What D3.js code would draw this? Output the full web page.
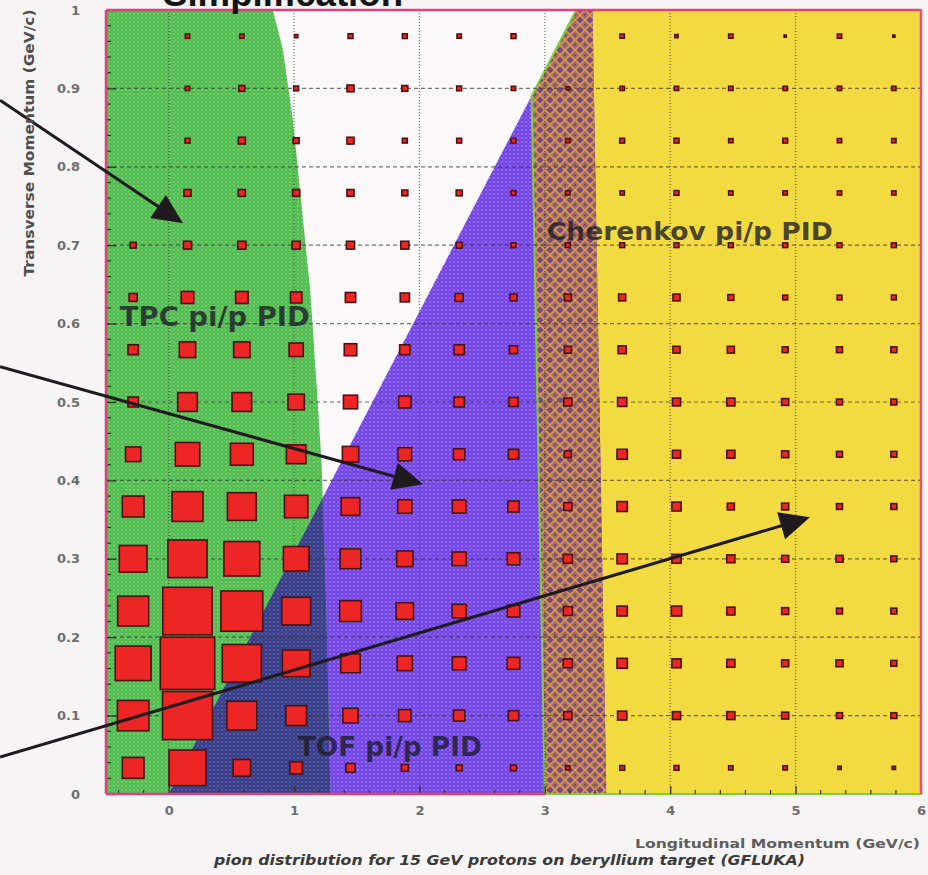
<!DOCTYPE html>
<html>
<head>
<meta charset="utf-8">
<script src="https://cdn.jsdelivr.net/npm/d3@7"></script>
<style>
  html, body { margin: 0; padding: 0; background: #f6f4f4; }
  svg { display: block; }
</style>
</head>
<body>
<svg id="chart" width="928" height="875"></svg>
<script>
// ---- histogram definition: longitudinal (pL) x transverse (pT) momentum bins ----
const pLRange = [-0.5, 6];     // GeV/c
const pTRange = [0, 1];        // GeV/c
const nBinsL = 15;
const nBinsT = 15;

// relative pion yield per cell; one array per pT bin (bottom to top), 15 pL bins each
const pionCounts = [
  [40, 68, 32, 23, 17, 13, 11, 11, 8, 9, 9, 8, 8, 6, 6],
  [58, 92, 55, 38, 28, 23, 21, 19, 15, 17, 15, 15, 13, 11, 11],
  [66, 100, 72, 51, 36, 28, 25, 23, 17, 19, 17, 15, 13, 13, 11],
  [57, 91, 77, 53, 40, 32, 26, 23, 17, 19, 19, 15, 13, 11, 11],
  [51, 72, 66, 47, 38, 30, 26, 23, 17, 19, 17, 15, 13, 13, 11],
  [40, 57, 53, 43, 34, 26, 25, 21, 15, 19, 17, 13, 13, 11, 11],
  [28, 45, 42, 36, 30, 25, 21, 19, 13, 19, 15, 15, 13, 11, 11],
  [19, 36, 36, 30, 26, 23, 19, 17, 15, 17, 15, 15, 13, 11, 11],
  [19, 30, 30, 26, 23, 19, 19, 15, 13, 15, 13, 13, 11, 11, 11],
  [15, 23, 23, 21, 19, 17, 15, 13, 13, 13, 13, 11, 9, 9, 9],
  [11, 15, 15, 15, 15, 15, 11, 9, 9, 9, 9, 9, 9, 9, 9],
  [0, 13, 13, 13, 13, 11, 11, 9, 8, 8, 9, 8, 8, 8, 8],
  [0, 9, 13, 11, 13, 9, 9, 9, 8, 9, 9, 8, 9, 8, 8],
  [0, 8, 11, 9, 13, 11, 9, 8, 6, 8, 8, 8, 8, 8, 8],
  [0, 8, 8, 6, 9, 9, 8, 9, 0, 8, 6, 8, 4, 8, 4]
];

// axis ticks
const xTickValues = [0, 1, 2, 3, 4, 5, 6];
const xTickLabels = ["0", "1", "2", "3", "4", "5", "6"];
const yTickValues = [0, 0.1, 0.2, 0.3, 0.4, 0.5, 0.6, 0.7, 0.8, 0.9, 1];
const yTickLabels = ["0", "0.1", "0.2", "0.3", "0.4", "0.5", "0.6", "0.7", "0.8", "0.9", "1"];

// particle-ID acceptance regions, [pL, pT] vertices
const tpcRegion = [[-0.5, 0], [-0.5, 1], [0.83, 1], [0.91, 0.95], [0.99, 0.86], [1.06, 0.75],
                   [1.13, 0.64], [1.18, 0.52], [1.22, 0.42], [1.26, 0.22], [1.29, 0]];
const tofRegion = [[0, 0], [3.49, 0], [3.38, 1], [3.25, 1]];
const cherenkovRegion = [[3.0, 0], [6, 0], [6, 1], [3.25, 1], [2.894, 0.89]];

// ---- drawing ----
const svg = d3.select("#chart");
const x = d3.scaleLinear().domain(pLRange).range([106, 921]);
const y = d3.scaleLinear().domain(pTRange).range([794, 10]);

const defs = svg.append("defs");

function dotPattern(id, base, dot, step, r) {
  const p = defs.append("pattern").attr("id", id).attr("patternUnits", "userSpaceOnUse")
    .attr("width", step).attr("height", step);
  p.append("rect").attr("width", step).attr("height", step).attr("fill", base);
  p.append("circle").attr("cx", step / 2).attr("cy", step / 2).attr("r", r).attr("fill", dot);
  [[0, 0], [step, step], [0, step], [step, 0]].forEach(c =>
    p.append("circle").attr("cx", c[0]).attr("cy", c[1]).attr("r", r * 0.6).attr("fill", dot));
}
dotPattern("tpcFill", "#50bb4e", "#80d27b", 4, 1.0);
dotPattern("tofFill", "#6e3ce4", "#9c7ef6", 4, 1.1);
dotPattern("overlapFill", "#373c86", "#5d62aa", 4, 1.0);

// woven hatch for the TOF / Cherenkov overlap
const hatch = defs.append("pattern").attr("id", "hatchFill").attr("patternUnits", "userSpaceOnUse")
  .attr("width", 10).attr("height", 10);
hatch.append("rect").attr("width", 10).attr("height", 10).attr("fill", "#7a4a80");
hatch.append("path").attr("d", "M0,5 L5,0 L10,5 L5,10 Z").attr("fill", "none")
  .attr("stroke", "#dc9e48").attr("stroke-width", 1.7);
hatch.append("path").attr("d", "M2.5,5 L5,2.5 L7.5,5 L5,7.5 Z").attr("fill", "none")
  .attr("stroke", "#c98a42").attr("stroke-width", 1.0);

const line = d3.line().x(d => x(d[0])).y(d => y(d[1]));
const closed = pts => line(pts) + "Z";

defs.append("clipPath").attr("id", "tofClip").append("path").attr("d", closed(tofRegion));

const regions = svg.append("g");
regions.append("rect").attr("x", x(pLRange[0])).attr("y", y(pTRange[1]))
  .attr("width", x(pLRange[1]) - x(pLRange[0])).attr("height", y(pTRange[0]) - y(pTRange[1]))
  .attr("fill", "#faf8f8");
regions.append("path").attr("d", closed(cherenkovRegion)).attr("fill", "#f3da40");
regions.append("path").attr("d", closed(tofRegion)).attr("fill", "url(#tofFill)");
regions.append("path").attr("d", closed(tpcRegion)).attr("fill", "url(#tpcFill)");
regions.append("path").attr("d", closed(tpcRegion)).attr("fill", "url(#overlapFill)")
  .attr("clip-path", "url(#tofClip)");
regions.append("path").attr("d", closed(cherenkovRegion)).attr("fill", "url(#hatchFill)")
  .attr("clip-path", "url(#tofClip)");
regions.append("path").attr("d", closed(cherenkovRegion)).attr("fill", "none")
  .attr("stroke", "#7ccf3c").attr("stroke-width", 2);

// grid
const grid = svg.append("g").attr("fill", "none");
grid.selectAll("line.h").data(yTickValues.slice(1, -1)).join("line")
  .attr("x1", x(pLRange[0])).attr("x2", x(pLRange[1]))
  .attr("y1", d => y(d)).attr("y2", d => y(d))
  .attr("stroke", "#3a3a3a").attr("stroke-opacity", 0.7).attr("stroke-width", 1.2)
  .attr("stroke-dasharray", "4,3");
grid.selectAll("line.v").data(xTickValues.slice(0, -1)).join("line")
  .attr("x1", d => x(d)).attr("x2", d => x(d))
  .attr("y1", y(pTRange[0])).attr("y2", y(pTRange[1]))
  .attr("stroke", "#444").attr("stroke-opacity", 0.7).attr("stroke-width", 1.3)
  .attr("stroke-dasharray", "1,2");

// boxes
const binW = (pLRange[1] - pLRange[0]) / nBinsL;
const binH = (pTRange[1] - pTRange[0]) / nBinsT;
const cellW = x(pLRange[0] + binW) - x(pLRange[0]);
const cellH = y(pTRange[0]) - y(pTRange[0] + binH);
const maxCount = d3.max(pionCounts.flat());
const cells = [];
pionCounts.forEach((row, j) => row.forEach((v, i) => {
  if (v > 0) cells.push({ pL: pLRange[0] + (i + 0.5) * binW, pT: pTRange[0] + (j + 0.5) * binH, v });
}));
svg.append("g").selectAll("rect").data(cells).join("rect")
  .attr("x", d => x(d.pL) - (d.v / maxCount) * cellW / 2)
  .attr("y", d => y(d.pT) - (d.v / maxCount) * cellH / 2)
  .attr("width", d => (d.v / maxCount) * cellW)
  .attr("height", d => (d.v / maxCount) * cellH)
  .attr("fill", "#ee2525").attr("stroke", "#4a1212").attr("stroke-width", 1.6);

// region labels
const labelFont = "'DejaVu Sans', sans-serif";
const labels = svg.append("g").attr("font-family", labelFont).attr("font-weight", "bold")
  .attr("fill", "#1c1c28").attr("fill-opacity", 0.8);
labels.append("text").attr("x", x(-0.39)).attr("y", y(0.597)).attr("font-size", 26)
  .attr("textLength", 190).attr("lengthAdjust", "spacingAndGlyphs").text("TPC pi/p PID");
labels.append("text").attr("x", x(1.03)).attr("y", y(0.049)).attr("font-size", 26)
  .attr("textLength", 184).attr("lengthAdjust", "spacingAndGlyphs").text("TOF pi/p PID");
labels.append("text").attr("x", x(3.015)).attr("y", y(0.706)).attr("font-size", 24)
  .attr("textLength", 286).attr("lengthAdjust", "spacingAndGlyphs").text("Cherenkov pi/p PID");

// axes: ticks point into the frame
const yMinor = d3.range(0.02, 1, 0.02).filter(v => Math.abs(v * 10 - Math.round(v * 10)) > 1e-6);
const xMinor = d3.range(-0.4, 6, 0.2).filter(v => Math.abs(v - Math.round(v)) > 1e-6);

const yAxis = svg.append("g").attr("transform", `translate(${x(pLRange[0])},0)`)
  .call(d3.axisLeft(y).tickValues(yTickValues).tickFormat((d, i) => yTickLabels[i])
    .tickSize(-10).tickPadding(26));
yAxis.select(".domain").remove();
yAxis.selectAll(".tick line").attr("stroke", "#333").attr("stroke-width", 1.3);
yAxis.selectAll("text").attr("font-family", "'DejaVu Sans', sans-serif").attr("font-weight", "bold")
  .attr("font-size", 13).attr("fill", "#6e6e6e");
svg.append("g").selectAll("line").data(yMinor).join("line")
  .attr("x1", x(pLRange[0])).attr("x2", x(pLRange[0]) + 5)
  .attr("y1", d => y(d)).attr("y2", d => y(d)).attr("stroke", "#333").attr("stroke-width", 1.2);

const xAxis = svg.append("g").attr("transform", `translate(0,${y(pTRange[0])})`)
  .call(d3.axisBottom(x).tickValues(xTickValues).tickFormat((d, i) => xTickLabels[i])
    .tickSize(-8).tickPadding(12));
xAxis.select(".domain").remove();
xAxis.selectAll(".tick line").attr("stroke", "#333").attr("stroke-width", 1.3);
xAxis.selectAll("text").attr("font-family", "'DejaVu Sans', sans-serif").attr("font-weight", "bold")
  .attr("font-size", 13).attr("fill", "#6e6e6e");
svg.append("g").selectAll("line").data(xMinor).join("line")
  .attr("x1", d => x(d)).attr("x2", d => x(d))
  .attr("y1", y(pTRange[0])).attr("y2", y(pTRange[0]) - 4).attr("stroke", "#333").attr("stroke-width", 1.2);

// frame
const frame = svg.append("g").attr("stroke", "#d9437f").attr("stroke-width", 2.5);
frame.append("line").attr("x1", x(pLRange[0])).attr("x2", x(pLRange[0])).attr("y1", y(0)).attr("y2", y(1));
frame.append("line").attr("x1", x(pLRange[0])).attr("x2", x(pLRange[1])).attr("y1", y(1)).attr("y2", y(1));
frame.append("line").attr("x1", x(pLRange[1])).attr("x2", x(pLRange[1])).attr("y1", y(0)).attr("y2", y(1))
  .attr("stroke", "#e0566a");
frame.append("line").attr("x1", x(pLRange[0])).attr("x2", x(cherenkovRegion[0][0])).attr("y1", y(0)).attr("y2", y(0));

// arrows pointing at each region
const arrows = [
  { from: [-1.345, 0.885], to: [0.114, 0.728] },
  { from: [-1.345, 0.545], to: [2.028, 0.395] },
  { from: [-1.345, 0.047], to: [5.114, 0.353] }
];
const arrowG = svg.append("g");
arrows.forEach(a => {
  const x0 = x(a.from[0]), y0 = y(a.from[1]), x1 = x(a.to[0]), y1 = y(a.to[1]);
  const len = Math.hypot(x1 - x0, y1 - y0);
  const ux = (x1 - x0) / len, uy = (y1 - y0) / len;
  const L = 30, W = 14;
  arrowG.append("line").attr("x1", x0).attr("y1", y0)
    .attr("x2", x1 - ux * L * 0.7).attr("y2", y1 - uy * L * 0.7)
    .attr("stroke", "#1e1a1e").attr("stroke-width", 3);
  const bx = x1 - ux * L, by = y1 - uy * L;
  arrowG.append("path")
    .attr("d", `M${x1},${y1} L${bx - uy * W},${by + ux * W} L${bx + uy * W},${by - ux * W} Z`)
    .attr("fill", "#1e1a1e");
});

// titles
svg.append("text").attr("x", 163).attr("y", 6).attr("font-family", "'Liberation Sans', Arial, sans-serif")
  .attr("font-weight", "bold").attr("font-size", 36).attr("fill", "#141414")
  .attr("textLength", 240).attr("lengthAdjust", "spacingAndGlyphs").text("Simplification");

svg.append("text").attr("transform", "translate(34,143) rotate(-90)").attr("text-anchor", "middle")
  .attr("font-family", "'DejaVu Sans', sans-serif").attr("font-weight", "bold").attr("font-size", 14)
  .attr("fill", "#4e4e4e").attr("textLength", 267).attr("lengthAdjust", "spacingAndGlyphs")
  .text("Transverse Momentum (GeV/c)");

svg.append("text").attr("x", 920).attr("y", 848).attr("text-anchor", "end")
  .attr("font-family", "'DejaVu Sans', sans-serif").attr("font-weight", "bold").attr("font-size", 13)
  .attr("fill", "#5e5e5e").attr("textLength", 285).attr("lengthAdjust", "spacingAndGlyphs")
  .text("Longitudinal Momentum (GeV/c)");

svg.append("text").attr("x", 214).attr("y", 865)
  .attr("font-family", "'DejaVu Sans', sans-serif").attr("font-style", "italic").attr("font-weight", "bold")
  .attr("font-size", 14).attr("fill", "#3a3a3a").attr("textLength", 591).attr("lengthAdjust", "spacingAndGlyphs")
  .text("pion distribution for 15 GeV protons on beryllium target (GFLUKA)");
</script>
</body>
</html>
